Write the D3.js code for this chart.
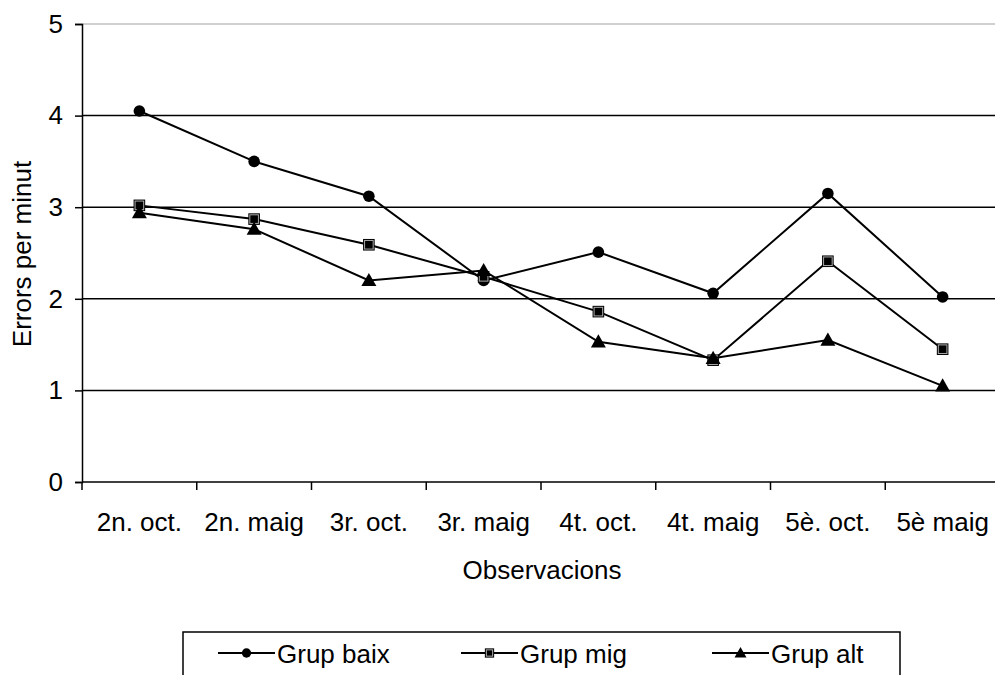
<!DOCTYPE html>
<meta charset="utf-8">
<script src="https://d3js.org/d3.v7.min.js"></script>
<style>
  body { margin: 0; background: #fff; }
  text { font-family: Arial, "Liberation Sans", sans-serif; fill: #000; }
</style>
<body>
<div id="chart"></div>
<script>
// categories and series
var categories = ["2n. oct.", "2n. maig", "3r. oct.", "3r. maig", "4t. oct.", "4t. maig", "5è. oct.", "5è maig"];
var grupBaix = [4.05, 3.50, 3.12, 2.20, 2.51, 2.06, 3.15, 2.02];
var grupMig  = [3.02, 2.87, 2.59, 2.24, 1.86, 1.33, 2.41, 1.45];
var grupAlt  = [2.94, 2.76, 2.20, 2.31, 1.53, 1.35, 1.55, 1.05];
var yTicks = [0, 1, 2, 3, 4, 5];
var seriesNames = ["Grup baix", "Grup mig", "Grup alt"];
var seriesShapes = ["circle", "square", "triangle"];

var width = 995, height = 675;
var margin = { top: 24, left: 82, right: -5, bottom: 193 };
var fontSize = "26px";

var svg = d3.select("#chart").append("svg")
  .attr("width", width)
  .attr("height", height);

var x = d3.scaleBand()
  .domain(categories)
  .range([margin.left, width - margin.right]);

var y = d3.scaleLinear()
  .domain([0, 5])
  .range([height - margin.bottom, margin.top]);

// gridlines
svg.append("g")
  .selectAll("line")
  .data(yTicks.filter(function (d) { return d > 0; }))
  .enter()
  .append("line")
  .attr("x1", margin.left)
  .attr("x2", width)
  .attr("y1", function (d) { return y(d); })
  .attr("y2", function (d) { return y(d); })
  .attr("stroke", function (d) { return d === 5 ? "#c0c0c0" : "#000"; })
  .attr("stroke-width", 1.5);

// y axis
var yAxis = svg.append("g")
  .attr("transform", "translate(" + margin.left + ",0)")
  .call(d3.axisLeft(y).tickValues(yTicks).tickSize(7).tickPadding(12).tickFormat(d3.format("d")));
yAxis.select(".domain").attr("stroke-width", 1.5);
yAxis.selectAll(".tick line").attr("stroke-width", 1.5);
yAxis.selectAll("text").attr("font-size", fontSize).attr("font-family", "Arial, 'Liberation Sans', sans-serif");

// x axis: ticks at band boundaries
var xAxisG = svg.append("g")
  .attr("transform", "translate(0," + y(0) + ")");
xAxisG.append("line")
  .attr("x1", margin.left)
  .attr("x2", width)
  .attr("stroke", "#000")
  .attr("stroke-width", 1.5);
xAxisG.selectAll(".xtick")
  .data(categories)
  .enter()
  .append("line")
  .attr("class", "xtick")
  .attr("x1", function (d) { return x(d); })
  .attr("x2", function (d) { return x(d); })
  .attr("y1", 0)
  .attr("y2", 8)
  .attr("stroke", "#000")
  .attr("stroke-width", 1.5);
xAxisG.selectAll(".xlabel")
  .data(categories)
  .enter()
  .append("text")
  .attr("class", "xlabel")
  .attr("x", function (d) { return x(d) + x.bandwidth() / 2; })
  .attr("y", 49)
  .attr("text-anchor", "middle")
  .attr("font-size", fontSize)
  .text(function (d) { return d; });

// axis titles
svg.append("text")
  .attr("x", 542)
  .attr("y", 579)
  .attr("text-anchor", "middle")
  .attr("font-size", fontSize)
  .text("Observacions");

svg.append("text")
  .attr("transform", "translate(31,254) rotate(-90)")
  .attr("text-anchor", "middle")
  .attr("font-size", fontSize)
  .text("Errors per minut");

// markers
function drawMarker(g, shape, cx, cy, k) {
  k = k || 1;
  if (shape === "circle") {
    g.append("circle").attr("cx", cx).attr("cy", cy).attr("r", 5.8 * k).attr("fill", "#000");
  } else if (shape === "square") {
    var h = 5.8 * k;
    g.append("rect").attr("x", cx - h).attr("y", cy - h).attr("width", 2 * h).attr("height", 2 * h)
      .attr("fill", "#000");
    g.append("rect").attr("x", cx - h + 1.5).attr("y", cy - h + 1.5).attr("width", 2 * h - 3).attr("height", 2 * h - 3)
      .attr("fill", "none").attr("stroke", "#aaa").attr("stroke-width", 1);
  } else {
    var t = 7.5 * k;
    g.append("path")
      .attr("d", "M" + cx + "," + (cy - t) + "L" + (cx + t) + "," + (cy + t * 0.75) + "L" + (cx - t) + "," + (cy + t * 0.75) + "Z")
      .attr("fill", "#000");
  }
}

var allSeries = [grupBaix, grupMig, grupAlt];
var line = d3.line()
  .x(function (d, i) { return x(categories[i]) + x.bandwidth() / 2; })
  .y(function (d) { return y(d); });

allSeries.forEach(function (vals, s) {
  var g = svg.append("g");
  g.append("path")
    .datum(vals)
    .attr("d", line)
    .attr("fill", "none")
    .attr("stroke", "#000")
    .attr("stroke-width", 2);
  vals.forEach(function (v, i) {
    drawMarker(g, seriesShapes[s], x(categories[i]) + x.bandwidth() / 2, y(v));
  });
});

// legend
var legend = svg.append("g");
legend.append("rect")
  .attr("x", 183)
  .attr("y", 632)
  .attr("width", 717)
  .attr("height", 60)
  .attr("fill", "#fff")
  .attr("stroke", "#000")
  .attr("stroke-width", 1.5);

var legendX = [218, 461, 712];
seriesNames.forEach(function (name, s) {
  var lx = legendX[s], ly = 653;
  legend.append("line")
    .attr("x1", lx).attr("x2", lx + 57)
    .attr("y1", ly).attr("y2", ly)
    .attr("stroke", "#000").attr("stroke-width", 2);
  drawMarker(legend, seriesShapes[s], lx + 28.5, ly, 0.8);
  legend.append("text")
    .attr("x", lx + 59)
    .attr("y", ly + 10)
    .attr("font-size", fontSize)
    .text(name);
});
</script>
</body>
